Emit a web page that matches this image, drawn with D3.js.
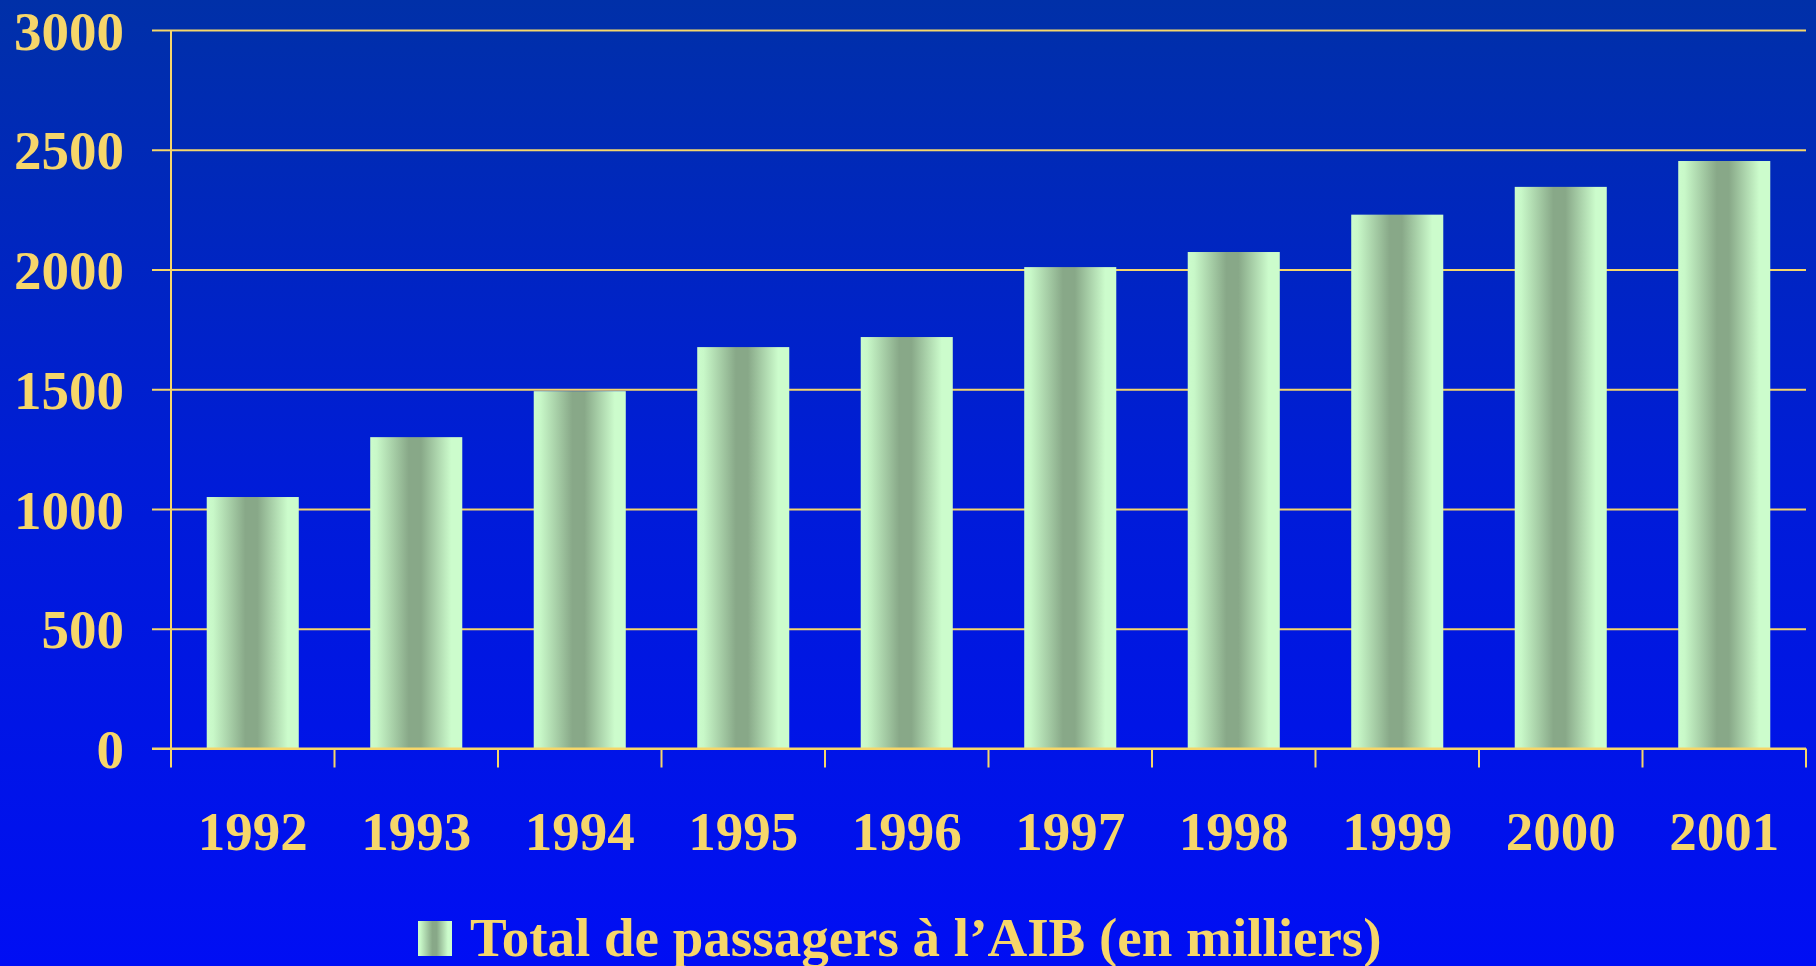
<!DOCTYPE html>
<html>
<head>
<meta charset="utf-8">
<script src="https://cdn.jsdelivr.net/npm/d3@7"></script>
<style>
html,body{margin:0;padding:0;overflow:hidden;background:#0010F0;}
svg{display:block;}
</style>
</head>
<body>
<svg id="chart" width="1816" height="966"></svg>
<script>
const categories = ["1992","1993","1994","1995","1996","1997","1998","1999","2000","2001"];
const values = [1050, 1300, 1492, 1676, 1718, 2010, 2073, 2229, 2345, 2453];
const yTicks = [0, 500, 1000, 1500, 2000, 2500, 3000];
const seriesName = "Total de passagers à l\u2019AIB (en milliers)";

(function(){
const W = 1816, H = 966;
const gold = "#F6D66A";
const font = "'Liberation Serif','Times New Roman',serif";
const fs = "55px";
const svg = d3.select("#chart");

const defs = svg.append("defs");
const bg = defs.append("linearGradient").attr("id","bg").attr("x1",0).attr("y1",0).attr("x2",0).attr("y2",1);
bg.append("stop").attr("offset",0).attr("stop-color","#0030A8");
bg.append("stop").attr("offset",0.5).attr("stop-color","#001CD8");
bg.append("stop").attr("offset",1).attr("stop-color","#000EF4");

const bar = defs.append("linearGradient").attr("id","bar").attr("x1",0).attr("y1",0).attr("x2",1).attr("y2",0);
[[0,"#CCFCCC"],[0.07,"#C8F8C8"],[0.42,"#88A888"],[0.55,"#88A888"],[0.88,"#CCFCCC"],[1,"#CCFCCC"]]
  .forEach(([o,c]) => bar.append("stop").attr("offset",o).attr("stop-color",c));

svg.append("rect").attr("width",W).attr("height",H).attr("fill","url(#bg)");

const pLeft = 171, pRight = 1806, pTop = 30, pBottom = 748.5;
const x = d3.scaleBand().domain(categories).range([pLeft, pRight]).paddingInner(0.437).paddingOuter(0.2185);
const y = d3.scaleLinear().domain([0, 3000]).range([pBottom, pTop]);

// gridlines
const yAxis = d3.axisLeft(y).tickValues(yTicks).tickSize(-(pRight - pLeft)).tickSizeOuter(0).tickFormat(d => d).tickPadding(0);
const gy = svg.append("g").attr("transform",`translate(${pLeft},0)`).call(yAxis);
gy.select(".domain").remove();
gy.selectAll(".tick line").attr("x1",-19).attr("x2",pRight-pLeft).attr("stroke",gold).attr("stroke-width",2);
gy.selectAll(".tick text").attr("x",-47).attr("dy",null).attr("y",19)
  .attr("fill",gold).style("font-family",font).style("font-weight","bold").style("font-size",fs).attr("text-anchor","end");

// bars
svg.append("g").selectAll("rect").data(values).join("rect")
  .attr("x",(d,i)=>x(categories[i]))
  .attr("y",d=>y(d))
  .attr("width",x.bandwidth())
  .attr("height",d=>y(0)-y(d))
  .attr("fill","url(#bar)");

// y axis line
svg.append("line").attr("x1",pLeft).attr("x2",pLeft).attr("y1",pTop).attr("y2",pBottom+19)
  .attr("stroke",gold).attr("stroke-width",2);

// x axis
const xAxis = d3.axisBottom(x).tickSize(0).tickSizeOuter(0);
const gx = svg.append("g").attr("transform",`translate(0,${pBottom})`).call(xAxis);
gx.select(".domain").remove();
gx.selectAll(".tick text").attr("y",101).attr("dy",null)
  .attr("fill",gold).style("font-family",font).style("font-weight","bold").style("font-size",fs);
svg.append("line").attr("x1",152).attr("x2",pRight).attr("y1",pBottom).attr("y2",pBottom)
  .attr("stroke",gold).attr("stroke-width",2);
const boundaries = categories.map(c => x(c) - x.step()*x.paddingInner()/2).slice(1).concat([pRight]);
svg.append("g").selectAll("line").data(boundaries).join("line")
  .attr("x1",d=>d).attr("x2",d=>d).attr("y1",pBottom).attr("y2",pBottom+19)
  .attr("stroke",gold).attr("stroke-width",2);

// legend
const lg = svg.append("g");
lg.append("rect").attr("x",418).attr("y",921).attr("width",34).attr("height",35).attr("fill","url(#bar)");
lg.append("text").attr("x",470).attr("y",956).text(seriesName)
  .attr("fill",gold).style("font-family",font).style("font-weight","bold").style("font-size",fs);
})();
</script>
</body>
</html>
